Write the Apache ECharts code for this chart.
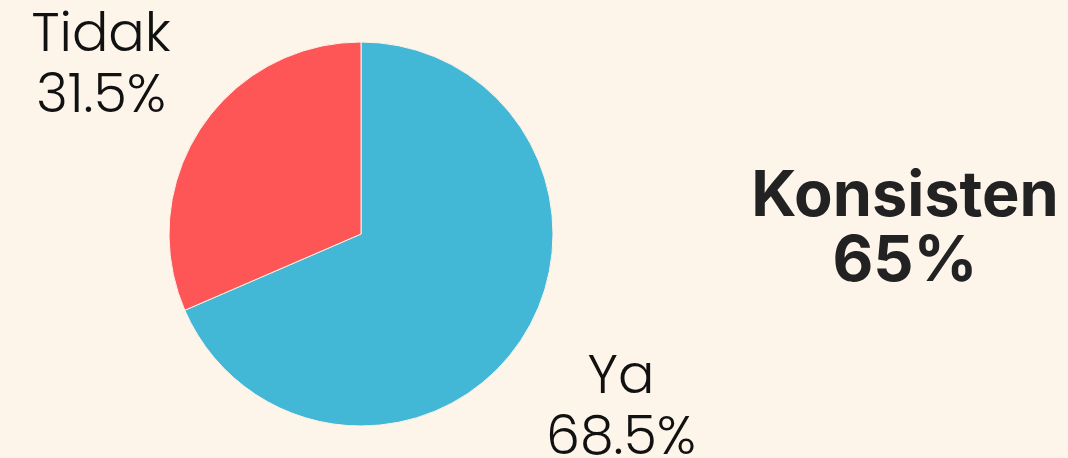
<!DOCTYPE html>
<html>
<head>
<meta charset="utf-8">
<script src="https://cdn.jsdelivr.net/npm/echarts@6/dist/echarts.min.js"></script>
<style>
  html, body { margin: 0; padding: 0; background: #fdf4ea; }
  #main { width: 1068px; height: 458px; }
</style>
</head>
<body>
<div id="main"></div>
<script>
var myChart = echarts.init(document.getElementById('main'));

// data
var categories = ['Ya', 'Tidak'];
var values = [68.5, 31.5];
var colors = ['#42b7d6', '#fe5656'];
var highlightLabel = 'Konsisten';
var highlightValue = 65;

var pieData = categories.map(function (name, i) {
    return { name: name, value: values[i], itemStyle: { color: colors[i] } };
});

option = {
    animation: false,
    backgroundColor: '#fdf4ea',
    title: {
        text: highlightLabel + '\n' + highlightValue + '%',
        left: 900,
        top: 160,
        textAlign: 'center',
        textStyle: {
            fontFamily: 'Inter',
            fontWeight: 'bold',
            fontSize: 63,
            lineHeight: 65,
            color: '#222222'
        }
    },
    series: [{
        // the pie itself
        type: 'pie',
        center: [361, 234],
        radius: 192,
        startAngle: 90,
        silent: true,
        label: { show: false },
        labelLine: { show: false },
        itemStyle: { borderColor: '#fdf4ea', borderWidth: 1 },
        data: pieData
    }, {
        // transparent ring, only carries the labels out past the edge
        type: 'pie',
        center: [361, 239],
        radius: [296, 320],
        startAngle: 90,
        silent: true,
        itemStyle: { color: 'transparent' },
        label: {
            show: true,
            position: 'inside',
            formatter: '{b}\n{c}%',
            fontFamily: 'Poppins, Lato, "Noto Sans"',
            fontWeight: 300,
            fontSize: 54,
            lineHeight: 61,
            padding: [11, 0, 0, 0],
            color: '#111111'
        },
        labelLine: { show: false },
        data: categories.map(function (name, i) {
            return { name: name, value: values[i] };
        })
    }]
};

myChart.setOption(option);
</script>
</body>
</html>
